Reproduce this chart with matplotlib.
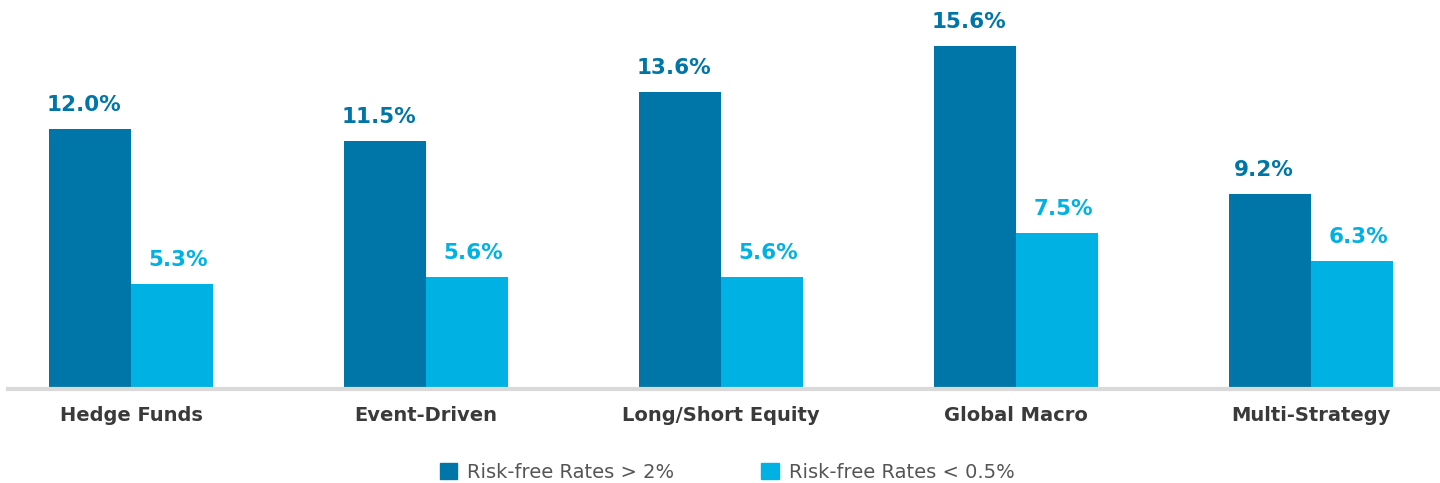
import numpy as np
import matplotlib.pyplot as plt
from matplotlib.patches import Patch

categories = ['Hedge Funds', 'Event-Driven', 'Long/Short Equity', 'Global Macro', 'Multi-Strategy']
high_rates = [12.0, 11.5, 13.6, 15.6, 9.2]
low_rates = [5.3, 5.6, 5.6, 7.5, 6.3]
series_names = ['Risk-free Rates > 2%', 'Risk-free Rates < 0.5%']

dark = '#0076A8'
light = '#00B2E3'

fig = plt.figure(figsize=(14.4, 4.83), dpi=100)
ax = fig.add_axes([8/1440, 94/483, 1432/1440, 380/483])

x = np.arange(len(categories))
w = 0.278
b1 = ax.bar(x - w/2, high_rates, w, color=dark)
b2 = ax.bar(x + w/2, low_rates, w, color=light)

# value labels, nudged slightly outwards like the original
for rect, v in zip(b1, high_rates):
    ax.text(rect.get_x() + rect.get_width()/2 - 0.02, v + 0.6, f'{v:.1f}%', ha='center', va='bottom',
            fontsize=15.5, fontweight='bold', color=dark)
for rect, v in zip(b2, low_rates):
    ax.text(rect.get_x() + rect.get_width()/2 + 0.02, v + 0.6, f'{v:.1f}%', ha='center', va='bottom',
            fontsize=15.5, fontweight='bold', color=light)

ax.set_xlim(-0.417, 4.437)
ax.set_ylim(0.76, 17.2)
ax.set_xticks(x)
ax.set_xticklabels(categories, fontsize=14, fontweight='bold', color='#3a3a3a')
ax.tick_params(axis='x', length=0, pad=12)
ax.set_yticks([])
for s in ['top', 'right', 'left']:
    ax.spines[s].set_visible(False)
ax.spines['bottom'].set_color('#d9d9d9')
ax.spines['bottom'].set_linewidth(3)

handles = [Patch(color=dark), Patch(color=light)]
fig.legend(handles, series_names, loc='center', bbox_to_anchor=(727/1440, 1 - 472/483), ncol=2,
           frameon=False, fontsize=14, handlelength=0.9, handleheight=0.9, handletextpad=0.5,
           columnspacing=4.5, labelcolor='#555555')

fig.savefig('out.png', dpi=100)
